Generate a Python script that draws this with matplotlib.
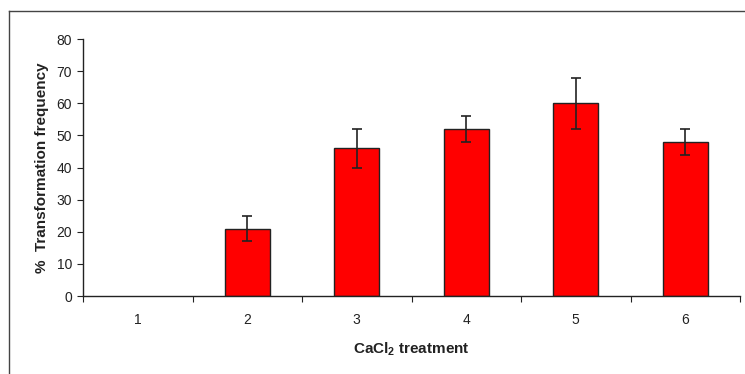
import numpy as np
import matplotlib
matplotlib.use("Agg")
import matplotlib.pyplot as plt
from matplotlib.lines import Line2D

plt.rcParams['font.family'] = ['Liberation Sans', 'DejaVu Sans']
plt.rcParams['mathtext.default'] = 'regular'

treatments = ["1", "2", "3", "4", "5", "6"]
freq = [0, 21, 46, 52, 60, 48]
err = [0, 4, 6, 4, 8, 4]

fig = plt.figure(figsize=(7.45, 3.74), dpi=100)
ax = fig.add_axes([83/745, 1-296/374, (740-83)/745, (296-39)/374])

x = np.arange(1, len(treatments) + 1)
edges = ["#222222" if v > 0 else "none" for v in freq]
ax.bar(x, freq, width=0.41, color="#ff0000", edgecolor=edges, linewidth=1)
for xi, v, e in zip(x, freq, err):
    if v > 0:
        ax.errorbar(xi, v, yerr=e, fmt="none", ecolor="#222222", elinewidth=1.2,
                    capsize=3.5, capthick=1.2)

ax.set_xlim(0.5, len(treatments) + 0.5)
ax.set_ylim(0, 80)
ax.set_yticks(range(0, 81, 10))
ax.set_xticks(np.arange(0.5, len(treatments) + 1, 1))
ax.set_xticklabels([])
ax.set_xticks(x, minor=True)
ax.set_xticklabels(treatments, minor=True)
ax.tick_params(axis="x", which="major", length=4, direction="out", color="#222222")
ax.tick_params(axis="x", which="minor", length=0, pad=12, labelsize=10, labelcolor="#222222")
ax.tick_params(axis="y", length=4, direction="out", color="#222222", labelsize=10,
               labelcolor="#222222", pad=4)

for s in ["top", "right"]:
    ax.spines[s].set_visible(False)
for s in ["left", "bottom"]:
    ax.spines[s].set_color("#222222")
    ax.spines[s].set_linewidth(1)

ax.set_ylabel("%  Transformation frequency", fontsize=11, fontweight="bold", labelpad=5,
              color="#222222")
ax.set_xlabel("CaCl$_2$ treatment", fontsize=11, fontweight="bold", labelpad=10,
              color="#222222")

# outer frame of the original figure
fx = 9/745
fy = 1 - 11/374
fig.add_artist(Line2D([fx, fx], [0, fy], transform=fig.transFigure, color="#444444", lw=1))
fig.add_artist(Line2D([fx, 1], [fy, fy], transform=fig.transFigure, color="#444444", lw=1))

fig.savefig("out.png", dpi=100)
